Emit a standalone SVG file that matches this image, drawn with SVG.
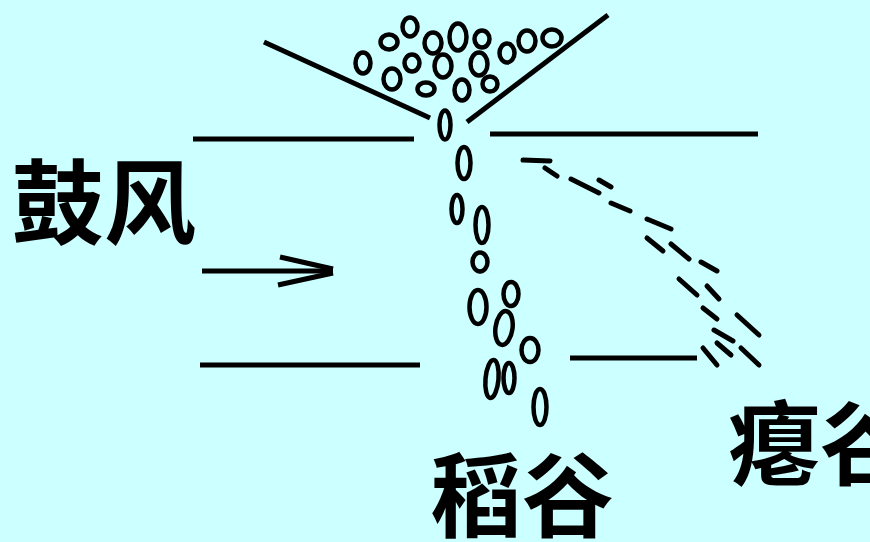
<svg xmlns="http://www.w3.org/2000/svg" width="870" height="542" viewBox="0 0 870 542">
  <style>
    .ln { stroke: #000; stroke-width: 5; stroke-linecap: butt; fill: none; }
    .ds { stroke: #000; stroke-width: 5; stroke-linecap: round; fill: none; }
    .gr { stroke: #000; stroke-width: 4.5; fill: none; }
    .lbl { font-family: "Noto Sans CJK SC", "Noto Sans", sans-serif; font-weight: bold; font-size: 92px; fill: #000; }
  </style>
  <rect width="870" height="542" fill="#CCFFFF"/>

  <!-- hopper and channel walls -->
  <g id="walls">
    <line class="ln" x1="264" y1="42" x2="430" y2="118"/>
    <line class="ln" x1="467" y1="122" x2="608" y2="15"/>
    <line class="ln" x1="193" y1="139" x2="414" y2="139"/>
    <line class="ln" x1="490" y1="134" x2="758" y2="134"/>
    <line class="ln" x1="200" y1="365" x2="420" y2="365"/>
    <line class="ln" x1="570" y1="358" x2="697" y2="358"/>
  </g>

  <!-- air flow arrow -->
  <g id="arrow">
    <line class="ln" x1="202" y1="271" x2="333" y2="271"/>
    <line class="ln" x1="280" y1="257" x2="333" y2="269"/>
    <line class="ln" x1="278" y1="285" x2="333" y2="273"/>
  </g>

  <!-- grain in the hopper -->
  <g id="hopper-grain">
    <ellipse class="gr" cx="363" cy="63" rx="7.5" ry="10.5"/>
    <ellipse class="gr" cx="389" cy="42" rx="8.5" ry="7.5"/>
    <ellipse class="gr" cx="410" cy="27" rx="7.5" ry="9.5"/>
    <ellipse class="gr" cx="433" cy="43" rx="8.5" ry="10.5"/>
    <ellipse class="gr" cx="458" cy="37" rx="8.5" ry="13.5"/>
    <ellipse class="gr" cx="482" cy="39" rx="7.5" ry="8.5"/>
    <ellipse class="gr" cx="507" cy="53" rx="7.5" ry="9.5"/>
    <ellipse class="gr" cx="527" cy="41" rx="8.5" ry="10.5"/>
    <ellipse class="gr" cx="552" cy="38" rx="9.5" ry="8.5"/>
    <ellipse class="gr" cx="392" cy="79" rx="8.5" ry="10.5"/>
    <ellipse class="gr" cx="412" cy="63" rx="7.5" ry="8.5"/>
    <ellipse class="gr" cx="443" cy="66" rx="8.5" ry="11.5"/>
    <ellipse class="gr" cx="479" cy="64" rx="8.5" ry="11.5"/>
    <ellipse class="gr" cx="426" cy="89" rx="8.5" ry="6.5"/>
    <ellipse class="gr" cx="462" cy="90" rx="7.5" ry="10.5"/>
    <ellipse class="gr" cx="490" cy="84" rx="7.5" ry="7.5"/>
    <ellipse class="gr" cx="445" cy="125" rx="5.5" ry="14.5"/>
  </g>

  <!-- full grain falling -->
  <g id="falling-grain">
    <ellipse class="gr" cx="464" cy="163" rx="6.5" ry="16"/>
    <ellipse class="gr" cx="457" cy="209" rx="5.5" ry="14"/>
    <ellipse class="gr" cx="482" cy="225" rx="6.5" ry="18"/>
    <ellipse class="gr" cx="480" cy="262" rx="7.5" ry="9.5"/>
    <ellipse class="gr" cx="478" cy="307" rx="8.5" ry="17"/>
    <ellipse class="gr" cx="511" cy="294" rx="7.5" ry="12"/>
    <ellipse class="gr" cx="504" cy="328" rx="8.5" ry="17" transform="rotate(8 504 328)"/>
    <ellipse class="gr" cx="530" cy="350" rx="8.5" ry="12"/>
    <ellipse class="gr" cx="492" cy="379" rx="6.5" ry="19" transform="rotate(5 492 379)"/>
    <ellipse class="gr" cx="509" cy="378" rx="5.5" ry="15"/>
    <ellipse class="gr" cx="540" cy="407" rx="6.5" ry="18"/>
  </g>

  <!-- chaff blown away -->
  <g id="chaff">
    <line class="ds" x1="523" y1="160" x2="550" y2="161"/>
    <line class="ds" x1="545" y1="168" x2="557" y2="176"/>
    <line class="ds" x1="571" y1="179" x2="599" y2="193"/>
    <line class="ds" x1="599" y1="180" x2="611" y2="187"/>
    <line class="ds" x1="611" y1="203" x2="630" y2="211"/>
    <line class="ds" x1="647" y1="219" x2="671" y2="229"/>
    <line class="ds" x1="647" y1="238" x2="663" y2="251"/>
    <line class="ds" x1="671" y1="244" x2="689" y2="259"/>
    <line class="ds" x1="701" y1="262" x2="717" y2="271"/>
    <line class="ds" x1="679" y1="279" x2="697" y2="295"/>
    <line class="ds" x1="707" y1="286" x2="719" y2="299"/>
    <line class="ds" x1="703" y1="308" x2="717" y2="319"/>
    <line class="ds" x1="737" y1="315" x2="759" y2="335"/>
    <line class="ds" x1="714" y1="330" x2="733" y2="341"/>
    <line class="ds" x1="717" y1="343" x2="731" y2="355"/>
    <line class="ds" x1="703" y1="348" x2="717" y2="365"/>
    <line class="ds" x1="741" y1="348" x2="759" y2="365"/>
  </g>

  <!-- labels (the last two run past the bottom and right edges) -->
  <g id="label-wind"><text class="lbl" x="12" y="237">鼓风</text></g>
  <g id="label-grain"><text class="lbl" x="430" y="530">稻谷</text></g>
  <g id="label-chaff"><text class="lbl" x="728" y="478">瘪谷</text></g>
</svg>
